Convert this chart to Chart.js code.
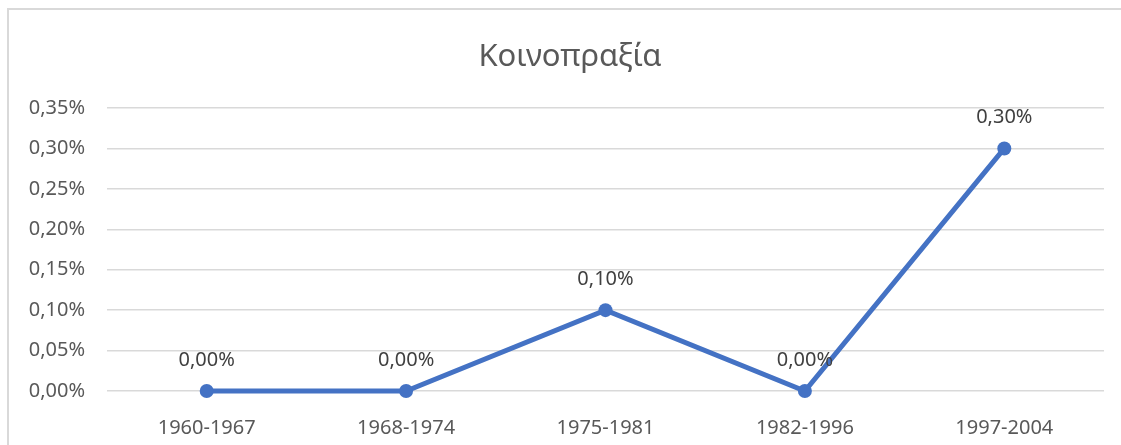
<!DOCTYPE html>
<html>
<head>
<meta charset="utf-8">
<script src="https://cdn.jsdelivr.net/npm/chart.js@4"></script>
<style>
  html, body { margin: 0; padding: 0; background: #fff; overflow: hidden; }
  canvas { display: block; }
</style>
</head>
<body>
<canvas id="grafico" width="1121" height="445"></canvas>
<script>
  // Datos del gráfico
  const titulo = "Κοινοπραξία";
  const periodos = ["1960-1967", "1968-1974", "1975-1981", "1982-1996", "1997-2004"];
  const valores = [0.00, 0.00, 0.10, 0.00, 0.30]; // en %
  const ejeMax = 0.35;
  const ejePaso = 0.05;

  const fuente = "'Noto Sans', 'Open Sans', sans-serif";
  const azul = "#4472C4";

  function formato(v) {
    return v.toFixed(2).replace(".", ",") + "%";
  }

  // Marco, título y etiquetas encima de cada punto
  const extras = {
    id: "extras",
    beforeDraw(chart) {
      const ctx = chart.ctx;
      ctx.save();
      ctx.strokeStyle = "#d9d9d9";
      ctx.lineWidth = 2;
      ctx.beginPath();
      ctx.moveTo(8, 445);
      ctx.lineTo(8, 9);
      ctx.lineTo(1121, 9);
      ctx.stroke();
      ctx.font = "31px " + fuente;
      ctx.fillStyle = "#595959";
      ctx.textAlign = "center";
      ctx.textBaseline = "alphabetic";
      ctx.fillText(titulo, 570, 66);
      ctx.restore();
    },
    afterDatasetsDraw(chart) {
      const ctx = chart.ctx;
      const meta = chart.getDatasetMeta(0);
      ctx.save();
      ctx.font = "20px " + fuente;
      ctx.fillStyle = "#404040";
      ctx.textAlign = "center";
      ctx.textBaseline = "middle";
      meta.data.forEach((p, i) => {
        ctx.fillText(formato(valores[i]), p.x, p.y - 31);
      });
      ctx.restore();
    }
  };

  new Chart(document.getElementById("grafico"), {
    type: "line",
    data: {
      labels: periodos,
      datasets: [{
        data: valores,
        borderColor: azul,
        backgroundColor: azul,
        borderWidth: 5,
        pointRadius: 7,
        pointHoverRadius: 7,
        pointBorderWidth: 0,
        tension: 0,
        clip: false,
      }],
    },
    options: {
      responsive: false,
      animation: false,
      layout: { padding: { left: 0, right: 17, top: 108, bottom: 0 } },
      plugins: {
        legend: { display: false },
        tooltip: { enabled: false },
        title: { display: false },
      },
      scales: {
        x: {
          offset: true,
          grid: { display: false },
          border: { display: false },
          ticks: { color: "#595959", font: { family: fuente, size: 20 }, padding: 17 },
          afterFit: (s) => { s.height = 54; },
        },
        y: {
          min: 0,
          max: ejeMax,
          grid: { color: "#d9d9d9", lineWidth: 1.5, drawTicks: false },
          border: { display: false },
          ticks: {
            stepSize: ejePaso,
            color: "#595959",
            font: { family: fuente, size: 20 },
            padding: 22,
            callback: (v) => formato(v),
          },
          afterFit: (s) => { s.width = 107; },
        },
      },
    },
    plugins: [extras],
  });
</script>
</body>
</html>
